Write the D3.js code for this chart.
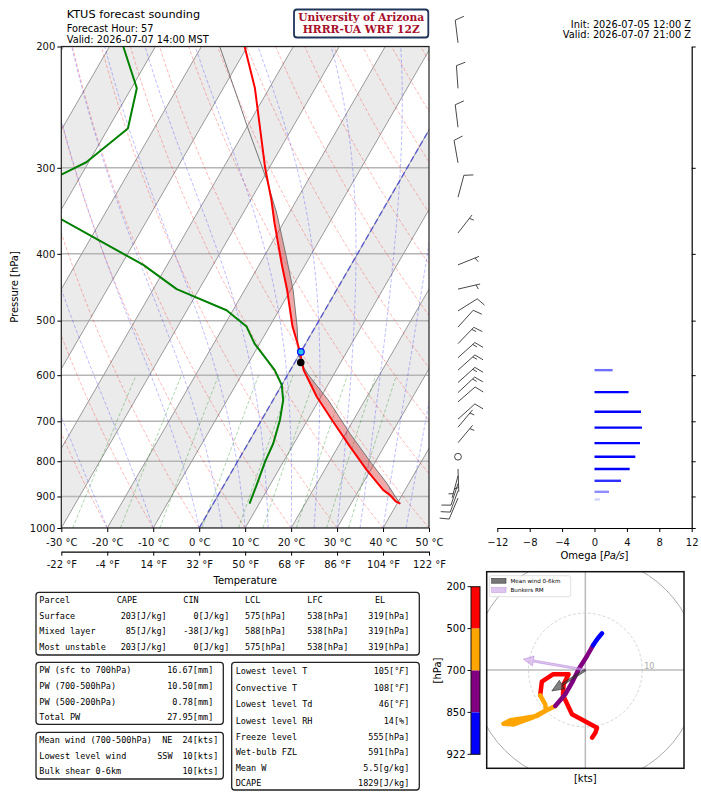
<!DOCTYPE html>
<html>
<head>
<meta charset="utf-8">
<script src="https://cdn.jsdelivr.net/npm/d3@7"></script>
<style>
body { margin: 0; background: #fff; }
svg { display: block; font-family: "DejaVu Sans", sans-serif; }
.mono { font-family: "DejaVu Sans Mono", monospace; font-size: 8.5px; }
</style>
</head>
<body>
<svg id="chart" width="701" height="792"></svg>
<script>
// ---- sounding data ----
var tempP = [922, 915, 896, 881, 824, 762, 701, 645, 590, 552, 510, 451, 413, 361, 334, 300, 230, 200];
var tempT = [40.7, 39.4, 37.4, 35.3, 29.2, 22.6, 15.8, 9.1, 2.9, -0.5, -5.0, -10.8, -15.3, -21.9, -25.5, -30.9, -43.1, -50.6];

var dewP = [922, 866, 801, 754, 697, 652, 620, 590, 540, 510, 483, 450, 415, 378, 356, 330, 307, 294.5, 263, 230, 200];
var dewT = [7.9, 7.1, 6.0, 5.5, 4.0, 2.2, 0.0, -3.4, -11.1, -15.0, -21.4, -34.9, -45.2, -59.7, -68.9, -85.0, -74.4, -70.5, -65.7, -68.8, -77.0];

var parcelP = [922, 900, 861, 806, 729, 652, 600, 575, 552, 510, 451, 404, 349, 312, 262, 200];
var parcelT = [40.7, 38.7, 35.2, 29.4, 20.9, 12.0, 4.6, 1.3, -0.8, -4.0, -9.5, -15.1, -22.7, -29.1, -39.8, -56.0];

var lclP = 575, lclT = 1.3;
var freezeP = 555, freezeT = 0;

// wind barbs
var barbP   = [197.5, 230, 262, 295, 331, 373, 415, 450, 484, 511, 540, 566, 590, 615, 636, 656, 695, 714, 752, 788, 821, 840, 862, 883, 905];
var barbDir = [353, 356, 353, 350, 15, 38, 68, 77, 58, 42, 44, 48, 48, 48, 47, 49, 48, 40, 40, 0, 178, 195, 198, 200, 203];
var barbSpd = [10, 10, 10, 10, 10, 5, 5, 5, 10, 10, 15, 15, 15, 15, 15, 10, 10, 5, 5, 0, 5, 5, 10, 10, 10];

// omega
var omegaP   = [590, 635, 678, 715, 753, 788, 821, 854, 886, 909];
var omegaVal = [2.24, 4.2, 5.74, 5.86, 5.62, 5.04, 4.34, 3.27, 1.79, 0.68];

// hodograph (kts)
var hodoP = [922, 905, 885, 865, 850, 820, 790, 760, 730, 700, 680, 660, 640, 620, 600, 585, 570, 550, 525, 500, 470, 440, 420, 400, 380, 350, 300, 250, 200];
var hodoU = [2.94, 2.53, 2.06, 1.65, 1.35, 0.29, -1.18, -2.35, -3.53, -5.29, -7.06, -8.53, -10.9, -13.2, -14.4, -12.6, -9.1, -6.9, -7.06, -7.94, -7.65, -5.71, -2.94, -3.82, -3.94, -2.35, 2.06, 1.76, 1.18];
var hodoV = [6.47, 6.0, 5.41, 4.82, 4.35, 2.47, 0.12, -2.24, -4.29, -6.35, -7.24, -8.12, -8.53, -8.88, -9.47, -9.6, -8.3, -7.1, -6.06, -4.47, -2.06, -0.76, -0.76, -2.53, -4.41, -7.82, -10.2, -11.06, -11.94];
var hodoBounds = [200, 500, 700, 850, 922];
var hodoColors = ["red", "orange", "purple", "blue"];
var meanWind = [-5.9, -3.7];
var bunkersRM = [-10.9, 1.9];

// ticks
var pressureTicks = [1000, 900, 800, 700, 600, 500, 400, 300, 200];
var tickC = [-30, -20, -10, 0, 10, 20, 30, 40, 50];
var tickF = [-22, -4, 14, 32, 50, 68, 86, 104, 122];
var omegaTicks = [-12, -8, -4, 0, 4, 8, 12];

// background lines
var isoT = [-100, -90, -80, -70, -60, -50, -40, -30, -20, -10, 0, 10, 20, 30, 40, 50];
var bandT = [-100, -80, -60, -40, -20, 0, 20, 40];
var dryT0 = [-30, -20, -10, 0, 10, 20, 30, 40, 50, 60, 70, 80, 90, 100, 110, 120, 130, 140];
var moistT0 = [-30, -20, -10, 0, 5, 10, 15, 20, 25, 30, 35, 40, 45];
var mixW = [0.0004, 0.001, 0.002, 0.004, 0.007, 0.01, 0.016, 0.024, 0.032];

// tables
var parcelRows = ["Surface", "Mixed layer", "Most unstable"];
var capeVals = [203, 85, 203];
var cinVals = [0, -38, 0];
var lclVals = [575, 588, 575];
var lfcVals = [538, 538, 538];
var elVals = [319, 319, 319];
var pwLabels = ["PW (sfc to 700hPa)", "PW (700-500hPa)", "PW (500-200hPa)", "Total PW"];
var pwVals = ["16.67", "10.50", "0.78", "27.95"];
var windLabels = ["Mean wind (700-500hPa)", "Lowest level wind", "Bulk shear 0-6km"];
var windDirs = ["NE", "SSW", ""];
var windSpds = [24, 10, 10];
var idxLabels = ["Lowest level T", "Convective T", "Lowest level Td", "Lowest level RH", "Freeze level", "Wet-bulb FZL", "Mean W", "DCAPE"];
var idxVals = ["105", "108", "46", "14", "555", "591", "5.5", "1829"];
var idxUnits = ["°F", "°F", "°F", "%", "hPa", "hPa", "g/kg", "J/kg"];

var svg = d3.select("#chart");

// ---- skew-T ----
var pL = 61.3, pR = 429, pT = 46.5, pB = 528;
var x = d3.scaleLinear().domain([-30, 50]).range([pL, pR]);
var y = d3.scaleLog().domain([1000, 200]).range([pB, pT]);
var skew = Math.tan(30 * Math.PI / 180);
function sx(T, p) { return x(T) + (pB - y(p)) * skew; }

svg.append("clipPath").attr("id", "skewclip")
   .append("rect").attr("x", pL).attr("y", pT).attr("width", pR - pL).attr("height", pB - pT);

var sk = svg.append("g").attr("clip-path", "url(#skewclip)");

bandT.forEach(function (t) {
    var pts = [[sx(t, 1000), pB], [sx(t + 10, 1000), pB], [sx(t + 10, 200), pT], [sx(t, 200), pT]];
    sk.append("polygon").attr("points", pts.join(" ")).attr("fill", "#ebebeb");
});

pressureTicks.forEach(function (p) {
    sk.append("line").attr("x1", pL).attr("x2", pR).attr("y1", y(p)).attr("y2", y(p))
      .attr("stroke", "#b5b5b5").attr("stroke-width", 1.5);
});

isoT.forEach(function (t) {
    sk.append("line").attr("x1", sx(t, 1000)).attr("y1", pB).attr("x2", sx(t, 200)).attr("y2", pT)
      .attr("stroke", "#999").attr("stroke-width", 1);
});

var line = d3.line().x(function (d) { return sx(d[1], d[0]); }).y(function (d) { return y(d[0]); });
var levels = [];
for (var p = 1000; p >= 200; p -= 10) levels.push(p);

dryT0.forEach(function (t0) {
    var pts = levels.map(function (p) { return [p, (t0 + 273.15) * Math.pow(p / 1000, 0.2857) - 273.15]; });
    sk.append("path").attr("d", line(pts)).attr("fill", "none")
      .attr("stroke", "rgba(255,0,0,0.35)").attr("stroke-width", 0.8).attr("stroke-dasharray", "3.5,2");
});

function moistLapse(T, p) {
    var Rd = 287.04, Cp = 1005.7, Lv = 2.501e6, eps = 0.622;
    var tc = T - 273.15;
    var es = 6.112 * Math.exp(17.67 * tc / (tc + 243.5));
    var rs = eps * es / (p - es);
    return (Rd * T + Lv * rs) / (Cp + Lv * Lv * rs * eps / (Rd * T * T)) / p;
}
moistT0.forEach(function (t0) {
    var T = t0 + 273.15, pts = [[1000, t0]], dp = -5;
    for (var p = 1000; p > 200; p += dp) {
        var k1 = moistLapse(T, p), k2 = moistLapse(T + dp * k1 / 2, p + dp / 2);
        var k3 = moistLapse(T + dp * k2 / 2, p + dp / 2), k4 = moistLapse(T + dp * k3, p + dp);
        T += dp * (k1 + 2 * k2 + 2 * k3 + k4) / 6;
        pts.push([p + dp, T - 273.15]);
    }
    sk.append("path").attr("d", line(pts)).attr("fill", "none")
      .attr("stroke", "rgba(0,0,255,0.33)").attr("stroke-width", 0.8).attr("stroke-dasharray", "3.5,2");
});

mixW.forEach(function (w) {
    var pts = [];
    for (var p = 1000; p >= 600; p -= 10) {
        var e = w * p / (0.622 + w), a = Math.log(e / 6.112);
        pts.push([p, 243.5 * a / (17.67 - a)]);
    }
    sk.append("path").attr("d", line(pts)).attr("fill", "none")
      .attr("stroke", "rgba(0,128,0,0.4)").attr("stroke-width", 0.8).attr("stroke-dasharray", "3.5,2");
});

// 0 C isotherm
sk.append("line").attr("x1", sx(0, 1000)).attr("y1", pB).attr("x2", sx(0, 200)).attr("y2", pT)
  .attr("stroke", "rgba(40,40,220,0.6)").attr("stroke-width", 1.5).attr("stroke-dasharray", "6,3");

// CAPE shading
function interp(ps, vs, p) {
    for (var i = 0; i < ps.length - 1; i++) {
        if (p <= ps[i] && p >= ps[i + 1]) {
            var f = Math.log(ps[i] / p) / Math.log(ps[i] / ps[i + 1]);
            return vs[i] + f * (vs[i + 1] - vs[i]);
        }
    }
    return vs[vs.length - 1];
}
var fillLev = [];
for (var p = 922; p >= 200; p -= 2) fillLev.push(p);
var upper = fillLev.map(function (p) { return [p, Math.max(interp(tempP, tempT, p), interp(parcelP, parcelT, p))]; });
var lower = fillLev.map(function (p) { return [p, interp(tempP, tempT, p)]; }).reverse();
sk.append("path").attr("d", line(upper.concat(lower)) + "Z")
  .attr("fill", "rgba(214,39,40,0.4)").attr("stroke", "none");

var parcel = parcelP.map(function (p, i) { return [p, parcelT[i]]; });
sk.append("path").attr("d", line(parcel)).attr("fill", "none").attr("stroke", "#777").attr("stroke-width", 1);

var temp = tempP.map(function (p, i) { return [p, tempT[i]]; });
sk.append("path").attr("d", line(temp)).attr("fill", "none").attr("stroke", "red").attr("stroke-width", 2)
  .attr("stroke-linejoin", "round");
var dew = dewP.map(function (p, i) { return [p, dewT[i]]; });
sk.append("path").attr("d", line(dew)).attr("fill", "none").attr("stroke", "green").attr("stroke-width", 2)
  .attr("stroke-linejoin", "round");

sk.append("circle").attr("cx", sx(lclT, lclP)).attr("cy", y(lclP)).attr("r", 3.8).attr("fill", "black");
sk.append("circle").attr("cx", sx(freezeT, freezeP)).attr("cy", y(freezeP)).attr("r", 3.3)
  .attr("fill", "#22c4e8").attr("stroke", "blue").attr("stroke-width", 1.2);

svg.append("rect").attr("x", pL).attr("y", pT).attr("width", pR - pL).attr("height", pB - pT)
   .attr("fill", "none").attr("stroke", "#222").attr("stroke-width", 1.2);

// axes
var ax = svg.append("g").attr("transform", "translate(" + pL + ",0)")
    .call(d3.axisLeft(y).tickValues(pressureTicks).tickFormat(d3.format("d")).tickSize(4).tickPadding(2).tickSizeOuter(0));
ax.select(".domain").remove();
ax.selectAll("text").attr("font-size", 10).attr("font-family", "DejaVu Sans").attr("fill", "#111");

var bx = svg.append("g").attr("transform", "translate(0," + pB + ")")
    .call(d3.axisBottom(x).tickValues(tickC).tickFormat(function (d) { return d + " °C"; }).tickSize(4).tickPadding(7).tickSizeOuter(0));
bx.select(".domain").remove();
bx.selectAll("text").attr("font-size", 10).attr("font-family", "DejaVu Sans").attr("fill", "#111");

var fx = svg.append("g").attr("transform", "translate(0,551.7)")
    .call(d3.axisBottom(x).tickValues(tickC).tickFormat(function (d, i) { return tickF[i] + " °F"; }).tickSize(4).tickPadding(5.7).tickSizeOuter(0));
fx.select(".domain").attr("stroke-width", 1.2);
fx.selectAll("text").attr("font-size", 10).attr("font-family", "DejaVu Sans").attr("fill", "#111");

svg.append("text").attr("x", (pL + pR) / 2).attr("y", 583.5).attr("text-anchor", "middle")
   .attr("font-size", 10).text("Temperature");
svg.append("text").attr("transform", "translate(17.5,287) rotate(-90)").attr("text-anchor", "middle")
   .attr("font-size", 10).text("Pressure [hPa]");

// titles
svg.append("text").attr("x", 66.7).attr("y", 18.3).attr("font-size", 11.3).text("KTUS forecast sounding");
svg.append("text").attr("x", 66.7).attr("y", 32.3).attr("font-size", 9.8).text("Forecast Hour: 57");
svg.append("text").attr("x", 66.7).attr("y", 42.5).attr("font-size", 9.8).text("Valid: 2026-07-07 14:00 MST");
svg.append("text").attr("x", 691).attr("y", 27.5).attr("font-size", 9.8).attr("text-anchor", "end").text("Init: 2026-07-05 12:00 Z");
svg.append("text").attr("x", 691).attr("y", 37.7).attr("font-size", 9.8).attr("text-anchor", "end").text("Valid: 2026-07-07 21:00 Z");

svg.append("rect").attr("x", 294).attr("y", 9.5).attr("width", 134.3).attr("height", 28).attr("rx", 3)
   .attr("fill", "white").attr("stroke", "#1f3458").attr("stroke-width", 1.8);
svg.append("text").attr("x", 361.2).attr("y", 21.3).attr("text-anchor", "middle")
   .attr("font-family", "DejaVu Serif").attr("font-weight", "bold").attr("font-size", 10.5).attr("fill", "#a8102c")
   .attr("textLength", 126).attr("lengthAdjust", "spacingAndGlyphs").text("University of Arizona");
svg.append("text").attr("x", 361.2).attr("y", 33.3).attr("text-anchor", "middle")
   .attr("font-family", "DejaVu Serif").attr("font-weight", "bold").attr("font-size", 10.5).attr("fill", "#a8102c")
   .attr("textLength", 117).attr("lengthAdjust", "spacingAndGlyphs").text("HRRR-UA WRF 12Z");

// ---- wind barbs ----
var barbX = 458, L = 22.7;
var bg = svg.append("g").attr("stroke", "#333").attr("stroke-width", 0.9).attr("fill", "none");
barbP.forEach(function (p, i) {
    var bx0 = barbX, by0 = y(p), s = barbSpd[i];
    if (s < 2.5) {
        bg.append("circle").attr("cx", bx0).attr("cy", by0).attr("r", 0.15 * L);
        return;
    }
    var th = barbDir[i] * Math.PI / 180;
    var dx = Math.sin(th), dy = -Math.cos(th);
    var px = -dy, py = dx;
    var tx = bx0 + L * dx, ty = by0 + L * dy;
    var d = "M" + bx0 + "," + by0 + "L" + tx + "," + ty;
    var full = Math.floor(s / 10), half = (s % 10) >= 5;
    var off = 0, sp = 0.125 * L;
    for (var k = 0; k < full; k++) {
        var x0 = tx - off * dx, y0 = ty - off * dy;
        d += "M" + x0 + "," + y0 + "L" + (x0 + 0.4 * L * px + 0.125 * L * dx) + "," + (y0 + 0.4 * L * py + 0.125 * L * dy);
        off += sp;
    }
    if (half) {
        if (off === 0) off = 1.5 * sp;
        var x1 = tx - off * dx, y1 = ty - off * dy;
        d += "M" + x1 + "," + y1 + "L" + (x1 + 0.2 * L * px + 0.0625 * L * dx) + "," + (y1 + 0.2 * L * py + 0.0625 * L * dy);
    }
    bg.append("path").attr("d", d);
});

// ---- omega panel ----
var ox = d3.scaleLinear().domain([-12, 12]).range([497.3, 691.7]);
omegaP.forEach(function (p, i) {
    svg.append("line").attr("x1", ox(0)).attr("x2", ox(omegaVal[i])).attr("y1", y(p)).attr("y2", y(p))
       .attr("stroke", "blue").attr("stroke-width", 2.4)
       .attr("stroke-opacity", Math.min(1, Math.abs(omegaVal[i]) / 4));
});
var oax = svg.append("g").attr("transform", "translate(0," + pB + ")")
    .call(d3.axisBottom(ox).tickValues(omegaTicks).tickFormat(function (d) { return d < 0 ? "\u2212" + (-d) : d; })
    .tickSize(4).tickPadding(7).tickSizeOuter(0));
oax.select(".domain").attr("stroke-width", 1.2);
oax.selectAll("text").attr("font-size", 10).attr("font-family", "DejaVu Sans").attr("fill", "#111");
var oay = svg.append("g").attr("transform", "translate(691.7,0)")
    .call(d3.axisRight(y).tickValues(pressureTicks).tickFormat("").tickSize(4).tickSizeOuter(0));
oay.select(".domain").attr("stroke-width", 1.2);
var ol = svg.append("text").attr("x", 594.5).attr("y", 559).attr("text-anchor", "middle").attr("font-size", 10);
ol.append("tspan").text("Omega [");
ol.append("tspan").attr("font-style", "italic").text("Pa/s");
ol.append("tspan").text("]");

// ---- tables ----
function box(x0, y0, w, h) {
    svg.append("rect").attr("x", x0).attr("y", y0).attr("width", w).attr("height", h).attr("rx", 3)
       .attr("fill", "white").attr("stroke", "#222").attr("stroke-width", 1.3);
}
function mtext(x0, y0, s, anchor) {
    return svg.append("text").attr("class", "mono").attr("x", x0).attr("y", y0)
              .attr("text-anchor", anchor || "start").text(s);
}
box(36, 592.3, 383.3, 62.7);
var t1y = [603.1, 618.8, 634.1, 649.8];
mtext(39.3, t1y[0], "Parcel");
mtext(116.7, t1y[0], "CAPE");
mtext(183.3, t1y[0], "CIN");
mtext(245, t1y[0], "LCL");
mtext(307.3, t1y[0], "LFC");
mtext(375, t1y[0], "EL");
parcelRows.forEach(function (r, i) {
    var yy = t1y[i + 1];
    mtext(39.3, yy, r);
    mtext(166.7, yy, capeVals[i] + "[J/kg]", "end");
    mtext(229.3, yy, cinVals[i] + "[J/kg]", "end");
    mtext(286, yy, lclVals[i] + "[hPa]", "end");
    mtext(348.3, yy, lfcVals[i] + "[hPa]", "end");
    mtext(409.3, yy, elVals[i] + "[hPa]", "end");
});

box(36, 662.3, 187.3, 62);
var t2y = [673.1, 688.8, 704.8, 719.8];
pwLabels.forEach(function (r, i) {
    mtext(39.3, t2y[i], r);
    mtext(213.3, t2y[i], pwVals[i] + "[mm]", "end");
});

box(36, 732.3, 187.3, 46.7);
var t3y = [743.1, 758.8, 774.1];
windLabels.forEach(function (r, i) {
    mtext(39.3, t3y[i], r);
    mtext(172.5, t3y[i], windDirs[i], "end");
    mtext(218.3, t3y[i], windSpds[i] + "[kts]", "end");
});

box(231.7, 662.3, 187.6, 127.7);
var t4y = [674.1, 690.8, 707.4, 724.1, 739.8, 755.4, 770.8, 786.4];
idxLabels.forEach(function (r, i) {
    mtext(235.7, t4y[i], r);
    var t = mtext(409.3, t4y[i], "", "end");
    if (idxUnits[i] === "°F") {
        t.append("tspan").text(idxVals[i] + "[°");
        t.append("tspan").attr("font-style", "italic").attr("font-family", "DejaVu Sans").text("F");
        t.append("tspan").text("]");
    } else {
        t.text(idxVals[i] + "[" + idxUnits[i] + "]");
    }
});

// ---- hodograph ----
var hx0 = 486.7, hx1 = 684, hy0 = 571.7, hy1 = 768.3;
var hx = d3.scaleLinear().domain([-17.35, 17.35]).range([hx0, hx1]);
var hy = d3.scaleLinear().domain([-17.35, 17.35]).range([hy1, hy0]);
svg.append("clipPath").attr("id", "hodoclip")
   .append("rect").attr("x", hx0).attr("y", hy0).attr("width", hx1 - hx0).attr("height", hy1 - hy0);
var hg = svg.append("g").attr("clip-path", "url(#hodoclip)");
var kpx = hx(1) - hx(0);
hg.append("circle").attr("cx", hx(0)).attr("cy", hy(0)).attr("r", 20 * kpx)
  .attr("fill", "none").attr("stroke", "#aaa").attr("stroke-width", 1);
hg.append("circle").attr("cx", hx(0)).attr("cy", hy(0)).attr("r", 10 * kpx)
  .attr("fill", "none").attr("stroke", "#ccc").attr("stroke-width", 0.8).attr("stroke-dasharray", "3,2");
hg.append("line").attr("x1", hx0).attr("x2", hx1).attr("y1", hy(0)).attr("y2", hy(0)).attr("stroke", "#bbb").attr("stroke-width", 1.5);
hg.append("line").attr("y1", hy0).attr("y2", hy1).attr("x1", hx(0)).attr("x2", hx(0)).attr("stroke", "#bbb").attr("stroke-width", 1.5);
hg.append("text").attr("x", hx(10) + 2).attr("y", hy(0) - 1.5).attr("font-size", 8).attr("fill", "#aaa").text("10");

var hline = d3.line().x(function (d) { return hx(d[1]); }).y(function (d) { return hy(d[2]); });
for (var s = 0; s < hodoColors.length; s++) {
    var seg = [];
    hodoP.forEach(function (p, i) {
        if (p >= hodoBounds[s] && p <= hodoBounds[s + 1]) seg.push([p, hodoU[i], hodoV[i]]);
    });
    hg.append("path").attr("d", hline(seg)).attr("fill", "none").attr("stroke", hodoColors[s])
      .attr("stroke-width", 4.5).attr("stroke-linejoin", "round").attr("stroke-linecap", "round");
}

function arrow(u, v, fill, stroke, hw, hl, sw) {
    var x0 = hx(0), y0 = hy(0), x1 = hx(u), y1 = hy(v);
    var len = Math.hypot(x1 - x0, y1 - y0), ux = (x1 - x0) / len, uy = (y1 - y0) / len;
    var nx = -uy, ny = ux, bx1 = x1 - hl * ux, by1 = y1 - hl * uy;
    var pts = [[x0 + nx * sw / 2, y0 + ny * sw / 2], [bx1 + nx * sw / 2, by1 + ny * sw / 2], [bx1 + nx * hw / 2, by1 + ny * hw / 2],
               [x1, y1], [bx1 - nx * hw / 2, by1 - ny * hw / 2], [bx1 - nx * sw / 2, by1 - ny * sw / 2], [x0 - nx * sw / 2, y0 - ny * sw / 2]];
    hg.append("polygon").attr("points", pts.join(" ")).attr("fill", fill).attr("stroke", stroke).attr("stroke-width", 0.8);
}
arrow(bunkersRM[0], bunkersRM[1], "rgba(200,160,230,0.6)", "rgba(170,120,210,0.6)", 10, 10, 2);
arrow(meanWind[0], meanWind[1], "rgba(60,60,60,0.65)", "rgba(30,30,30,0.7)", 10, 12, 2);

svg.append("rect").attr("x", hx0).attr("y", hy0).attr("width", hx1 - hx0).attr("height", hy1 - hy0)
   .attr("fill", "none").attr("stroke", "#111").attr("stroke-width", 1.5);

// legend
svg.append("rect").attr("x", 489.3).attr("y", 575.7).attr("width", 81.4).attr("height", 21).attr("rx", 2)
   .attr("fill", "rgba(255,255,255,0.85)").attr("stroke", "#ccc").attr("stroke-width", 0.6);
svg.append("rect").attr("x", 491.7).attr("y", 578.4).attr("width", 14.3).attr("height", 4.8)
   .attr("fill", "rgba(60,60,60,0.7)").attr("stroke", "#222").attr("stroke-width", 0.5);
svg.append("rect").attr("x", 491.7).attr("y", 587.6).attr("width", 14.3).attr("height", 4.8)
   .attr("fill", "rgba(200,160,230,0.6)").attr("stroke", "rgba(170,120,210,0.8)").attr("stroke-width", 0.5);
svg.append("text").attr("x", 510.5).attr("y", 582.7).attr("font-size", 5.6).text("Mean wind 0-6km");
svg.append("text").attr("x", 510.5).attr("y", 591.9).attr("font-size", 5.6).text("Bunkers RM");

svg.append("text").attr("x", hx(0)).attr("y", 782).attr("text-anchor", "middle").attr("font-size", 10).text("[kts]");

// colour bar
var cbx = 471, cbw = 9, cby0 = 586.7, cby1 = 754.3;
var cy = d3.scaleLinear().domain([0, hodoBounds.length - 1]).range([cby0, cby1]);
hodoColors.forEach(function (c, i) {
    svg.append("rect").attr("x", cbx).attr("y", cy(i)).attr("width", cbw).attr("height", cy(i + 1) - cy(i)).attr("fill", c);
});
svg.append("rect").attr("x", cbx).attr("y", cby0).attr("width", cbw).attr("height", cby1 - cby0)
   .attr("fill", "none").attr("stroke", "#111").attr("stroke-width", 1);
hodoBounds.forEach(function (b, i) {
    svg.append("line").attr("x1", cbx - 3.5).attr("x2", cbx).attr("y1", cy(i)).attr("y2", cy(i)).attr("stroke", "#111");
    svg.append("text").attr("x", cbx - 5.5).attr("y", cy(i) + 3.5).attr("text-anchor", "end").attr("font-size", 10).text(b);
});
svg.append("text").attr("transform", "translate(440.5,670.5) rotate(-90)").attr("text-anchor", "middle")
   .attr("font-size", 10).text("[hPa]");
</script>
</body>
</html>
